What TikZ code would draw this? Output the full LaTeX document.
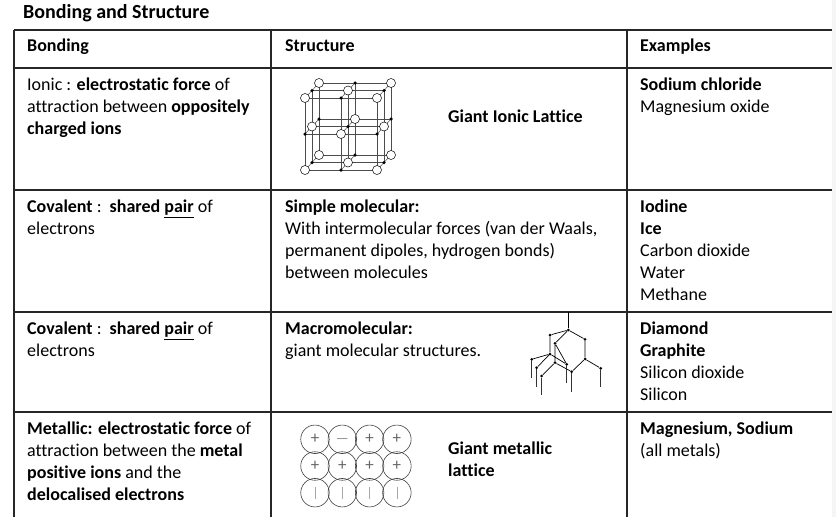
\documentclass[tikz,border=0pt]{standalone}
\usepackage{fontspec}
\setmainfont[Ligatures=NoCommon]{Carlito}
\usetikzlibrary{positioning}
\newcommand{\cellfont}{\fontsize{18}{21.8}\selectfont}
\tikzset{
  cell/.style={anchor=north west, inner sep=0pt, align=left, font=\cellfont},
  rule/.style={line width=1.3pt, black!85},
  ion/.style={circle, draw, fill=white, inner sep=0pt, minimum size=9pt, line width=0.5pt},
  dot/.style={circle, fill=black, inner sep=0pt, minimum size=3.5pt},
  metal/.style={circle, draw=black!75, inner sep=0pt, minimum size=28.5pt, line width=0.6pt, font=\fontsize{17}{17}\selectfont, text=black!60},
  atom/.style={circle, fill=black, inner sep=0pt, minimum size=3pt},
}
\begin{document}
\begin{tikzpicture}[x=1pt,y=-1pt]
\useasboundingbox (0,0) rectangle (836,517);
\fill[gray!8] (832,0) rectangle (836,517);
% title
\node[cell, font=\fontsize{20}{22}\selectfont\bfseries] (title) at (23,4) {Bonding and Structure};
% table rules
\foreach \y in {30,68,190,312,412} \draw[rule] (14,\y) -- (832,\y);
\foreach \x in {14,271,627} \draw[rule] (\x,30) -- (\x,517);
% header
\node[cell] (hbond) at (27,39) {\textbf{Bonding}};
\node[cell] (hstruct) at (285,39) {\textbf{Structure}};
\node[cell] (hex) at (640,39) {\textbf{Examples}};
% row 1
\node[cell] (bond1) at (27,78) {Ionic : \textbf{electrostatic force} of\\attraction between \textbf{oppositely}\\\textbf{charged ions}};
\foreach \a in {0,1,2} \foreach \b in {0,1,2} {
  \draw[black!70, line width=0.5pt] (305+36*\a,170-36*\b) -- (319+36*\a,155-36*\b);
  \draw[black!70, line width=0.5pt] (305+36*\a+7*\b,170-7.5*\b) -- (305+36*\a+7*\b,98-7.5*\b);
  \draw[black!70, line width=0.5pt] (305+7*\b,170-36*\a-7.5*\b) -- (377+7*\b,170-36*\a-7.5*\b);
}
\foreach \i in {0,1,2} \foreach \j in {0,1,2} \foreach \k in {0,1,2} {
  \pgfmathtruncatemacro{\parity}{mod(\i+\j+\k,2)}
  \ifnum\parity=0
    \node[ion] (ion\i\j\k) at (305+36*\i+7*\k,170-36*\j-7.5*\k) {};
  \else
    \node[dot] (ion\i\j\k) at (305+36*\i+7*\k,170-36*\j-7.5*\k) {};
  \fi
}
\node[cell] (struct1) at (448,110) {\textbf{Giant Ionic Lattice}};
\node[cell] (ex1) at (640,78) {\textbf{Sodium chloride}\\Magnesium oxide};
% row 2
\node[cell] (bond2) at (27,200) {\textbf{Covalent} :\ \ \textbf{shared \underline{pair}} of\\electrons};
\node[cell] (struct2) at (285,200) {\textbf{Simple molecular:}\\With intermolecular forces (van der Waals,\\permanent dipoles, hydrogen bonds)\\between molecules};
\node[cell] (ex2) at (640,200) {\textbf{Iodine}\\\textbf{Ice}\\Carbon dioxide\\Water\\Methane};
% row 3
\node[cell] (bond3) at (27,322) {\textbf{Covalent} :\ \ \textbf{shared \underline{pair}} of\\electrons};
\node[cell] (struct3) at (285,322) {\textbf{Macromolecular:}\\giant molecular structures.};
\node[cell] (ex3) at (640,322) {\textbf{Diamond}\\\textbf{Graphite}\\Silicon dioxide\\Silicon};
\foreach \n/\px/\py in {a/568.3/330, b/550/335, c/585/339.3, d/555/343.3, e/550/354, f/585/359,
    g/531.7/359.3, h/555/362.7, i/566.7/364.3, j/536.7/367.7, k/571.7/371.7, l/541.7/376, m/600.7/368.3}
  \node[atom] (\n) at (\px,\py) {};
\draw[line width=0.7pt] (a) -- (568.3,312);
\draw[line width=0.7pt] (a) -- (b) (a) -- (c) (a) -- (d) (b) -- (e) (d) -- (h) (c) -- (f)
  (f) -- (k) (f) -- (m) (e) -- (g) (e) -- (j) (e) -- (i) (h) -- (k) (h) -- (l) (d) -- (i);
\foreach \n/\len in {g/19, j/19, l/19, i/19, k/20, m/19}
  \draw[line width=0.7pt, black!80] (\n) -- ++(0,\len);
% row 4
\node[cell] (bond4) at (27,422) {\textbf{Metallic: electrostatic force} of\\attraction between the \textbf{metal}\\\textbf{positive ions} and the\\\textbf{delocalised electrons}};
\foreach \s [count=\c from 0] in {+,$-$,+,+}
  \node[metal] (m1\c) at (315+27.3*\c,439.3) {\s};
\foreach \c in {0,...,3} {
  \node[metal] (m2\c) at (315+27.3*\c,466) {+};
  \node[metal] (m3\c) at (315+27.3*\c,492.7) {};
  \draw[black!35, line width=0.6pt] (m3\c.center) ++(0,-6) -- ++(0,12);
}
\node[cell] (struct4) at (448,442) {\textbf{Giant metallic}\\\textbf{lattice}};
\node[cell] (ex4) at (640,422) {\textbf{Magnesium, Sodium}\\(all metals)};
\end{tikzpicture}
\end{document}
